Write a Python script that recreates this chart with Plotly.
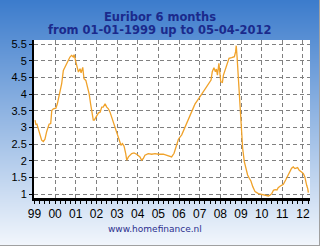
import base64
import struct
import zlib

import plotly.graph_objects as go

# ---------------- data ----------------
years = [
    1999.03, 1999.07, 1999.12, 1999.27, 1999.35, 1999.43, 1999.51, 1999.59, 1999.71, 1999.79,
    1999.84, 1999.92, 2000.04, 2000.11, 2000.20, 2000.32, 2000.40, 2000.56, 2000.64, 2000.72,
    2000.80, 2000.88, 2000.92, 2001.00, 2001.08, 2001.13, 2001.21, 2001.26, 2001.34, 2001.40,
    2001.49, 2001.56, 2001.65, 2001.72, 2001.77, 2001.85, 2001.90, 2001.95, 2002.03, 2002.10,
    2002.18, 2002.26, 2002.33, 2002.42, 2002.50, 2002.58, 2002.66, 2002.74, 2002.82, 2002.90,
    2002.98, 2003.06, 2003.14, 2003.19, 2003.26, 2003.34, 2003.42, 2003.47, 2003.55, 2003.63,
    2003.71, 2003.82, 2003.95, 2004.11, 2004.19, 2004.27, 2004.35, 2004.51, 2004.68, 2004.84,
    2005.00, 2005.24, 2005.40, 2005.48, 2005.64, 2005.76, 2005.89, 2005.97, 2006.13, 2006.29,
    2006.45, 2006.61, 2006.77, 2007.01, 2007.17, 2007.41, 2007.55, 2007.61, 2007.69, 2007.76,
    2007.81, 2007.86, 2007.93, 2008.02, 2008.10, 2008.15, 2008.23, 2008.31, 2008.42, 2008.55,
    2008.68, 2008.74, 2008.77, 2008.81, 2008.87, 2008.92, 2008.97, 2009.03, 2009.08, 2009.16,
    2009.24, 2009.32, 2009.40, 2009.48, 2009.57, 2009.68, 2009.84, 2010.00, 2010.17, 2010.25,
    2010.33, 2010.41, 2010.49, 2010.57, 2010.65, 2010.74, 2010.80, 2010.89, 2011.05, 2011.18,
    2011.29, 2011.37, 2011.45, 2011.53, 2011.61, 2011.74, 2011.82, 2011.93, 2012.02, 2012.09,
    2012.13, 2012.18, 2012.23, 2012.26,
]
rates = [
    3.22, 3.09, 3.10, 2.77, 2.62, 2.58, 2.65, 2.87, 3.10, 3.12,
    3.51, 3.56, 3.58, 3.71, 3.96, 4.31, 4.71, 4.91, 5.06, 5.11,
    5.16, 5.11, 5.18, 4.96, 4.71, 4.66, 4.76, 4.64, 4.80, 4.46,
    4.41, 4.26, 4.01, 3.71, 3.46, 3.22, 3.22, 3.27, 3.39, 3.44,
    3.46, 3.61, 3.61, 3.71, 3.61, 3.56, 3.46, 3.32, 3.17, 3.02,
    2.87, 2.72, 2.57, 2.47, 2.52, 2.44, 2.22, 2.02, 2.12, 2.17,
    2.22, 2.24, 2.20, 2.12, 2.02, 2.07, 2.17, 2.22, 2.20, 2.22,
    2.20, 2.20, 2.17, 2.16, 2.12, 2.23, 2.50, 2.65, 2.78, 3.00,
    3.22, 3.47, 3.70, 3.92, 4.07, 4.30, 4.42, 4.67, 4.79, 4.67,
    4.75, 4.57, 4.92, 4.37, 4.35, 4.57, 4.72, 4.92, 5.07, 5.09,
    5.12, 5.27, 5.45, 5.12, 4.57, 4.07, 3.48, 2.88, 2.38, 1.98,
    1.73, 1.58, 1.48, 1.40, 1.23, 1.08, 1.02, 1.00, 0.97, 0.97,
    0.95, 0.98, 1.02, 1.12, 1.14, 1.13, 1.20, 1.24, 1.30, 1.45,
    1.60, 1.67, 1.78, 1.82, 1.77, 1.80, 1.72, 1.67, 1.62, 1.52,
    1.37, 1.27, 1.17, 1.05,
]
tick_years = list(range(1999, 2013))
tick_labels = ["99", "00", "01", "02", "03", "04", "05", "06", "07", "08", "09", "10", "11", "12"]
y_ticks = [1, 1.5, 2, 2.5, 3, 3.5, 4, 4.5, 5, 5.5]
y_tick_labels = ["1", "1.5", "2", "2.5", "3", "3.5", "4", "4.5", "5", "5.5"]
title_lines = ["Euribor 6 months", "from 01-01-1999 up to 05-04-2012"]
footer = "www.homefinance.nl"

# ---------------- geometry ----------------
W, H = 320, 246
ML, MR, MT, MB = 34, 10, 40, 48
PW, PH = W - ML - MR, H - MT - MB


def px_x(px):
    return (px - ML) / PW


def px_y(py):
    return (H - MB - py) / PH


def gradient_png(h, top, bot):
    raw = b""
    for i in range(h):
        t = i / (h - 1)
        c = bytes(round(top[k] + (bot[k] - top[k]) * t) for k in range(3))
        raw += b"\x00" + c + c
    def chunk(tag, data):
        return (struct.pack(">I", len(data)) + tag + data
                + struct.pack(">I", zlib.crc32(tag + data) & 0xFFFFFFFF))
    png = (b"\x89PNG\r\n\x1a\n"
           + chunk(b"IHDR", struct.pack(">IIBBBBB", 2, h, 8, 2, 0, 0, 0))
           + chunk(b"IDAT", zlib.compress(raw))
           + chunk(b"IEND", b""))
    return "data:image/png;base64," + base64.b64encode(png).decode()


fig = go.Figure()
fig.add_trace(go.Scatter(
    x=years, y=rates, mode="lines",
    line=dict(color="#f0a22a", width=1.3),
    hoverinfo="skip", showlegend=False,
))

grid = dict(showgrid=True, gridcolor="#808080", gridwidth=1, griddash="4px,3px")

fig.update_layout(
    width=W, height=H,
    margin=dict(l=ML, r=MR, t=MT, b=MB, pad=0),
    paper_bgcolor="#eef3fa",
    plot_bgcolor="white",
    showlegend=False,
    xaxis=dict(
        range=[1998.98, 2012.34], tickvals=tick_years, ticktext=tick_labels,
        showline=True, linecolor="black", linewidth=3,
        ticks="outside", ticklen=3, tickcolor="black",
        minor=dict(dtick=0.25, tick0=1999, ticks="outside", ticklen=3, tickcolor="black", showgrid=False),
        tickfont=dict(family="Liberation Sans, Arial", size=12, color="black"),
        zeroline=False, fixedrange=True, **grid,
    ),
    yaxis=dict(
        range=[0.89, 5.62], tickvals=y_ticks, ticktext=y_tick_labels,
        showline=True, linecolor="black", linewidth=2,
        ticks="outside", ticklen=3, tickcolor="black",
        tickfont=dict(family="Liberation Sans, Arial", size=11, color="black"),
        zeroline=False, fixedrange=True, **grid,
    ),
    images=[dict(
        source=gradient_png(246, (60, 124, 204), (242, 246, 252)),
        xref="paper", yref="paper",
        x=px_x(0), y=px_y(0), sizex=W / PW, sizey=H / PH,
        xanchor="left", yanchor="top", sizing="stretch", layer="below",
    )],
    shapes=[
        dict(type="rect", xref="paper", yref="paper", x0=0, x1=1, y0=0, y1=1,
             fillcolor="white", line=dict(width=0), layer="below"),
        dict(type="line", xref="paper", yref="paper", x0=px_x(W - 0.5), x1=px_x(W - 0.5),
             y0=px_y(0), y1=px_y(H), line=dict(color="#a0a0a0", width=1), layer="above"),
        dict(type="line", xref="paper", yref="paper", x0=px_x(0), x1=px_x(W),
             y0=px_y(H - 0.5), y1=px_y(H - 0.5), line=dict(color="#a0a0a0", width=1), layer="above"),
    ],
    annotations=[
        dict(text="<b>%s</b>" % title_lines[0], xref="paper", yref="paper",
             x=px_x(160), y=px_y(16.5), xanchor="center", yanchor="middle", showarrow=False,
             font=dict(family="DejaVu Sans, Verdana", size=11.5, color="#1b2a8c")),
        dict(text="<b>%s</b>" % title_lines[1], xref="paper", yref="paper",
             x=px_x(160), y=px_y(30.5), xanchor="center", yanchor="middle", showarrow=False,
             font=dict(family="DejaVu Sans, Verdana", size=11.5, color="#1b2a8c")),
        dict(text=footer, xref="paper", yref="paper",
             x=px_x(155), y=px_y(229), xanchor="center", yanchor="middle", showarrow=False,
             font=dict(family="DejaVu Sans, Verdana", size=9, color="#2b2f8f")),
    ],
)

fig.write_html("out.html")
